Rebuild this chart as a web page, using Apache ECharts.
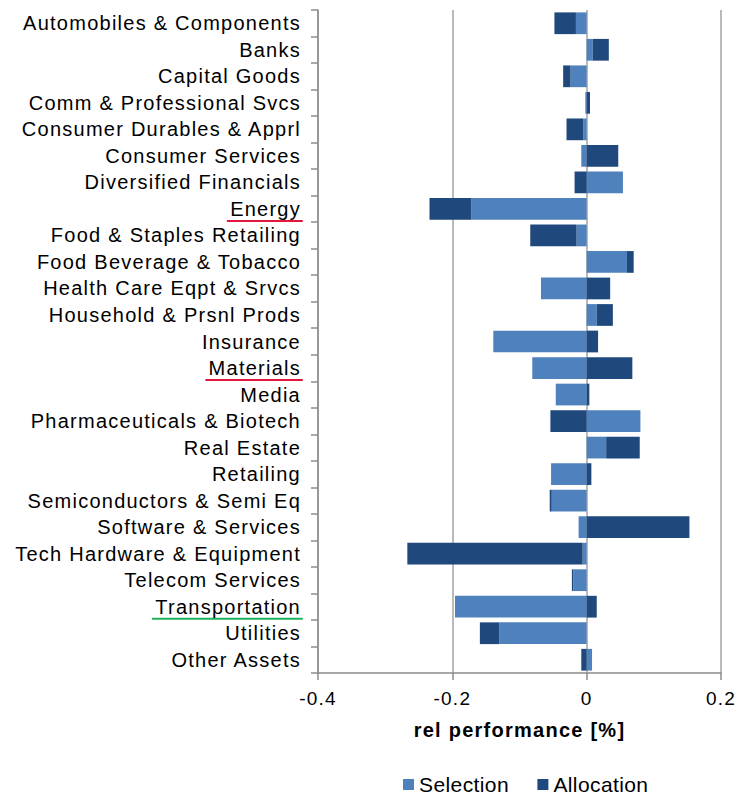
<!DOCTYPE html>
<html>
<head>
<meta charset="utf-8">
<script src="https://cdn.jsdelivr.net/npm/echarts@6/dist/echarts.min.js"></script>
<style>
  html, body { margin: 0; padding: 0; background: #fff; }
  #chart { width: 739px; height: 796px; }
  /* slightly tracked text, as in the spreadsheet export */
  #chart text { letter-spacing: 1.25px; }
  #chart text:not([text-anchor="end"]):not([text-anchor="middle"]) { letter-spacing: 0.4px; }
</style>
</head>
<body>
<div id="chart"></div>
<script>
// Industry groups, top to bottom
const categories = [
  'Automobiles & Components', 'Banks', 'Capital Goods', 'Comm & Professional Svcs',
  'Consumer Durables & Apprl', 'Consumer Services', 'Diversified Financials', 'Energy',
  'Food & Staples Retailing', 'Food Beverage & Tobacco', 'Health Care Eqpt & Srvcs',
  'Household & Prsnl Prods', 'Insurance', 'Materials', 'Media', 'Pharmaceuticals & Biotech',
  'Real Estate', 'Retailing', 'Semiconductors & Semi Eq', 'Software & Services',
  'Tech Hardware & Equipment', 'Telecom Services', 'Transportation', 'Utilities', 'Other Assets'
];

// Attribution effects, relative performance in %
const selection = [
  -0.016, 0.009, -0.024, -0.002, -0.005, -0.008, 0.054, -0.172,
  -0.015, 0.060, -0.068, 0.015, -0.139, -0.081, -0.046, 0.080,
  0.029, -0.053, -0.052, -0.012, -0.006, -0.020, -0.196, -0.130, 0.008
];
const allocation = [
  -0.032, 0.024, -0.011, 0.005, -0.025, 0.047, -0.018, -0.062,
  -0.069, 0.010, 0.035, 0.024, 0.017, 0.068, 0.004, -0.054,
  0.050, 0.007, -0.003, 0.153, -0.261, -0.002, 0.015, -0.029, -0.008
];

const xTicks = [-0.4, -0.2, 0, 0.2];
const xTitle = 'rel performance [%]';
const seriesNames = ['Selection', 'Allocation'];

// Labels flagged with an underline
const flagged = [
  { name: 'Energy', color: '#e3173e' },
  { name: 'Materials', color: '#e3173e' },
  { name: 'Transportation', color: '#1fb25a' }
];

const FONT = '"Liberation Sans", Arial, sans-serif';
const LABEL_SIZE = 20;
const LABEL_SPACING = 1.25;
const GRID = { left: 318, right: 18, top: 10, bottom: 123 };
const LABEL_MARGIN = 17;

const chart = echarts.init(document.getElementById('chart'), null, { renderer: 'svg' });

const option = {
  animation: false,
  backgroundColor: '#fff',
  textStyle: { fontFamily: FONT },
  grid: Object.assign({ containLabel: false, outerBoundsMode: 'none' }, GRID),
  legend: {
    data: seriesNames,
    left: 403,
    top: 774,
    padding: 0,
    icon: 'rect',
    itemWidth: 11,
    itemHeight: 11,
    itemGap: 32,
    textStyle: { fontFamily: FONT, fontSize: 21, color: '#000' }
  },
  xAxis: {
    type: 'value',
    min: xTicks[0],
    max: xTicks[xTicks.length - 1],
    interval: Math.round((xTicks[1] - xTicks[0]) * 10) / 10,
    name: xTitle,
    nameLocation: 'middle',
    nameGap: 47,
    nameTextStyle: { fontFamily: FONT, fontSize: 20, fontWeight: 'bold', color: '#000' },
    axisLine: { show: true, lineStyle: { color: '#8c8c8c', width: 1.5 } },
    axisTick: { show: true, length: 7, lineStyle: { color: '#8c8c8c', width: 1.5 } },
    axisLabel: {
      margin: 16,
      fontFamily: FONT,
      fontSize: 19,
      color: '#000',
      formatter: function (v) {
        const hit = xTicks.find(t => Math.abs(t - v) < 1e-9);
        return String(hit !== undefined ? hit : v);
      }
    },
    splitLine: { show: true, lineStyle: { color: '#a3a3a3', width: 1.5 } }
  },
  yAxis: {
    type: 'category',
    data: categories,
    inverse: true,
    axisLine: { show: true, onZero: false, lineStyle: { color: '#8c8c8c', width: 1.5 } },
    axisTick: { show: true, length: 7, lineStyle: { color: '#8c8c8c', width: 1.5 } },
    axisLabel: {
      margin: LABEL_MARGIN,
      fontFamily: FONT,
      fontSize: LABEL_SIZE,
      color: '#000',
      interval: 0
    },
    splitLine: { show: false }
  },
  series: [
    {
      name: seriesNames[0],
      type: 'bar',
      stack: 'effect',
      barCategoryGap: '18%',
      data: selection,
      itemStyle: { color: '#4f81bd' }
    },
    {
      name: seriesNames[1],
      type: 'bar',
      stack: 'effect',
      barCategoryGap: '18%',
      data: allocation,
      itemStyle: { color: '#1f497d' }
    }
  ]
};

chart.setOption(option);

// Underlines below the flagged category labels, placed from the axis scale
const ctx = document.createElement('canvas').getContext('2d');
ctx.font = LABEL_SIZE + 'px ' + FONT;
const labelRight = GRID.left - LABEL_MARGIN - LABEL_SPACING;
const underlines = flagged.map(function (f) {
  const idx = categories.indexOf(f.name);
  const y = chart.convertToPixel({ yAxisIndex: 0 }, idx) + 12;
  const w = ctx.measureText(f.name).width + f.name.length * LABEL_SPACING;
  return {
    type: 'line',
    silent: true,
    shape: { x1: labelRight - w - 2, y1: y, x2: labelRight + 3, y2: y },
    style: { stroke: f.color, lineWidth: 2 }
  };
});
chart.setOption({ graphic: underlines });
</script>
</body>
</html>
